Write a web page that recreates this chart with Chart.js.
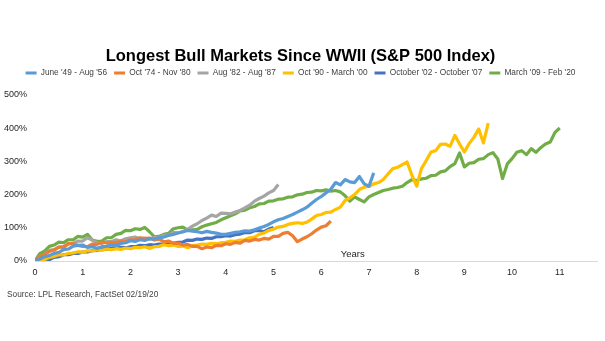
<!DOCTYPE html>
<html>
<head>
<meta charset="utf-8">
<script src="https://cdn.jsdelivr.net/npm/chart.js@4.4.1/dist/chart.umd.min.js"></script>
<style>
  html, body { margin: 0; padding: 0; background: #ffffff; }
  canvas { display: block; }
</style>
</head>
<body>
<canvas id="chart" width="605" height="341"></canvas>
<script>
// Cumulative S&P 500 gain (%) of each bull market, sampled every STEP years from its start.
const STEP = 0.1;

const seriesLabels = [
  "June '49 - Aug '56",
  "Oct '74 - Nov '80",
  "Aug '82 - Aug '87",
  "Oct '90 - March '00",
  "October '02 - October '07",
  "March '09 - Feb '20"
];

const seriesColors = ['#5B9BD5', '#ED7D31', '#A5A5A5', '#FFC000', '#4472C4', '#70AD47'];

const bull1949 = [
  0, 6, 13, 16, 23, 26, 34, 36, 45, 47,
  48, 41, 43, 38, 43, 44, 48, 46, 53, 55,
  61, 59, 64, 62, 67, 66, 70, 72, 77, 80,
  84, 88, 92, 90, 88, 85, 89, 86, 84, 80,
  80, 83, 86, 88, 91, 90, 94, 99, 104, 110,
  118, 124, 128, 134, 140, 147, 154, 162, 174, 185,
  194, 205, 216, 236, 229, 245, 238, 236, 254, 232,
  225, 265
];

const bull1974 = [
  0, 14, 20, 29, 33, 42, 43, 52, 53, 47,
  44, 43, 51, 50, 57, 54, 56, 55, 60, 58,
  64, 63, 70, 68, 69, 63, 66, 58, 60, 53,
  54, 48, 50, 44, 44, 37, 42, 40, 47, 46,
  52, 50, 56, 54, 62, 60, 65, 63, 68, 66,
  74, 74, 83, 86, 76, 58, 66, 73, 82, 93,
  102, 106, 120
];

const bull1982 = [
  0, 12, 20, 32, 34, 42, 40, 52, 53, 60,
  60, 70, 63, 55, 53, 58, 58, 64, 60, 67,
  70, 72, 66, 68, 66, 71, 70, 77, 78, 86,
  85, 88, 95, 105, 112, 122, 129, 138, 134, 144,
  143, 142, 147, 152, 160, 168, 180, 188, 195, 205,
  212, 230
];

const bull1990 = [
  0, 3, 4, 11, 14, 19, 18, 23, 24, 28,
  26, 31, 30, 34, 32, 36, 34, 37, 35, 39,
  37, 41, 40, 43, 38, 43, 44, 49, 46, 48,
  44, 45, 40, 46, 48, 51, 50, 53, 52, 55,
  56, 60, 59, 63, 64, 70, 72, 80, 84, 92,
  96, 102, 104, 110, 113, 115, 113, 117, 126, 137,
  140, 146, 147, 155, 162, 182, 190, 200, 215, 222,
  224, 232, 236, 245, 262, 278, 282, 290, 298, 258,
  225, 278, 302, 328, 332, 351, 352, 345, 378, 352,
  328, 353, 372, 397, 355, 415
];

const bull2002 = [
  0, -3, 3, 4, 11, 13, 19, 19, 23, 23,
  27, 27, 31, 32, 36, 35, 38, 38, 41, 40,
  43, 43, 47, 46, 49, 48, 51, 51, 56, 53,
  56, 57, 63, 62, 66, 65, 69, 68, 73, 73,
  76, 75, 79, 81, 86, 85, 91, 92, 88, 96,
  101
];

const bull2009 = [
  0, 22, 30, 44, 48, 57, 55, 64, 64, 74,
  72, 80, 63, 59, 60, 70, 70, 80, 83, 92,
  91, 97, 95, 101, 88, 73, 74, 80, 83, 97,
  100, 102, 93, 94, 95, 103, 108, 112, 116, 124,
  130, 136, 142, 151, 153, 160, 164, 172, 173, 180,
  181, 186, 187, 192, 193, 199, 201, 206, 207, 212,
  211, 214, 210, 212, 208, 196, 180, 193, 185, 178,
  193, 200, 206, 212, 215, 219, 221, 225, 236, 245,
  242, 247, 249, 257, 258, 268, 271, 284, 293, 325,
  283, 294, 296, 306, 308, 320, 326, 307, 248, 292,
  308, 327, 332, 320, 338, 327, 341, 352, 358, 387,
  400
];

const seriesValues = [bull1949, bull1974, bull1982, bull1990, bull2002, bull2009];

const yearTicks = [0, 1, 2, 3, 4, 5, 6, 7, 8, 9, 10, 11];
const percentTicks = [0, 100, 200, 300, 400, 500];

const X_MAX = 11.78;     // axis runs a little past the last labelled year
const Y_MAX = 523;       // headroom above the 500% tick
const YEARS_NOTE_AT = 6.66;
const SOURCE_NOTE = 'Source: LPL Research, FactSet 02/19/20';

const FONT = '"Liberation Sans", Arial, Helvetica, sans-serif';

function toPoints(values) {
  return values.map((v, i) => ({ x: Math.round(i * STEP * 100) / 100, y: v }));
}

const datasets = seriesLabels.map((label, k) => ({
  label,
  data: toPoints(seriesValues[k]),
  borderColor: seriesColors[k],
  backgroundColor: seriesColors[k],
  borderWidth: 3.2,
  pointRadius: 0,
  tension: 0,
  borderJoinStyle: 'round'
}));

// "Years" caption above the horizontal axis and the source line under the chart
const chartNotes = {
  id: 'chartNotes',
  afterDraw(chart) {
    const { ctx, chartArea, scales } = chart;
    ctx.save();
    ctx.font = '9.5px ' + FONT;
    ctx.fillStyle = '#262626';
    ctx.textAlign = 'center';
    ctx.textBaseline = 'middle';
    ctx.fillText('Years', scales.x.getPixelForValue(YEARS_NOTE_AT), chartArea.bottom - 7);
    ctx.font = '8.3px ' + FONT;
    ctx.fillStyle = '#404040';
    ctx.textAlign = 'left';
    ctx.fillText(SOURCE_NOTE, 7, chartArea.bottom + 34);
    ctx.restore();
  }
};

new Chart(document.getElementById('chart'), {
  type: 'line',
  data: { datasets },
  plugins: [chartNotes],
  options: {
    responsive: false,
    animation: false,
    devicePixelRatio: 1,
    layout: { padding: { left: 4, right: 8, top: 0, bottom: 50 } },
    plugins: {
      title: {
        display: true,
        text: 'Longest Bull Markets Since WWII (S&P 500 Index)',
        color: '#000000',
        font: { family: FONT, size: 16.5, weight: 'bold', lineHeight: 0.709 },
        padding: { top: 50.15, bottom: 0 }
      },
      legend: {
        display: true,
        position: 'top',
        labels: {
          color: '#404040',
          font: { family: FONT, size: 8.3 },
          boxWidth: 11,
          boxHeight: 3,
          padding: 7,
          generateLabels(chart) {
            return Chart.defaults.plugins.legend.labels.generateLabels(chart)
              .map(item => Object.assign(item, { lineWidth: 0 }));
          }
        }
      },
      tooltip: { enabled: false }
    },
    scales: {
      x: {
        type: 'linear',
        min: 0,
        max: X_MAX,
        grid: { display: false, drawTicks: false },
        border: { display: true, color: '#d9d9d9', width: 1 },
        afterBuildTicks(axis) { axis.ticks = yearTicks.map(v => ({ value: v })); },
        afterFit(axis) { axis.height = 30; },
        ticks: {
          color: '#262626',
          font: { family: FONT, size: 9 },
          padding: 6,
          maxRotation: 0,
          autoSkip: false
        }
      },
      y: {
        type: 'linear',
        min: 0,
        max: Y_MAX,
        grid: { display: false, drawTicks: false },
        border: { display: false },
        afterBuildTicks(axis) { axis.ticks = percentTicks.map(v => ({ value: v })); },
        afterFit(axis) { axis.width = 31; },
        ticks: {
          color: '#262626',
          font: { family: FONT, size: 9 },
          padding: 8,
          callback: v => v + '%'
        }
      }
    }
  }
});
</script>
</body>
</html>
